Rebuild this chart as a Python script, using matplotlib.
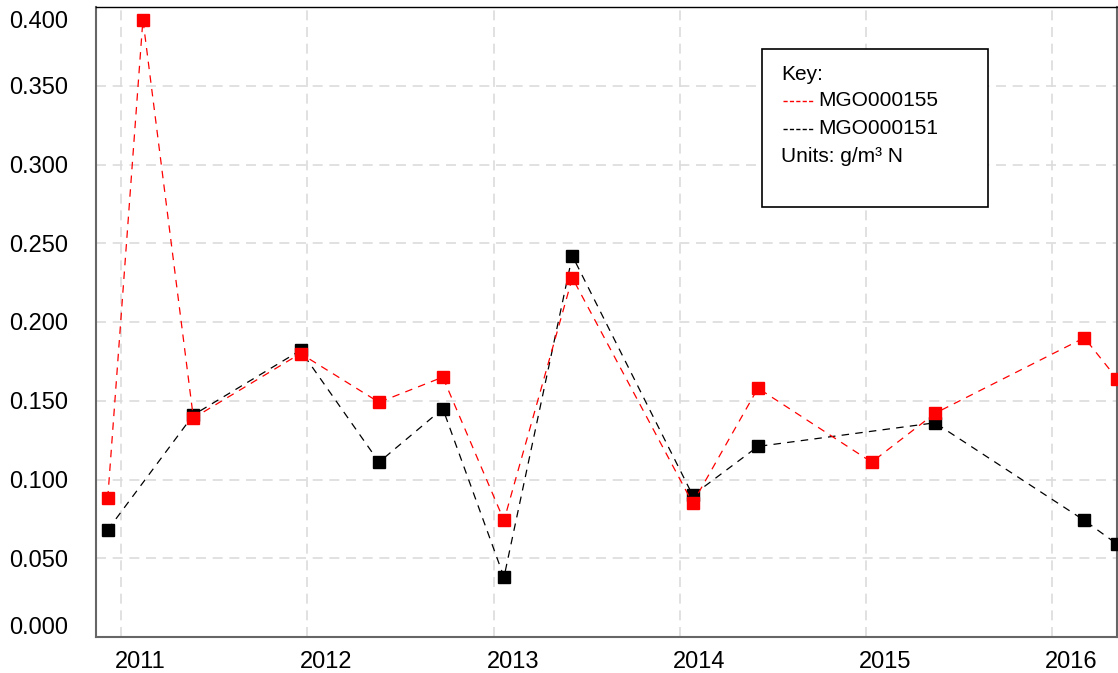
import matplotlib
matplotlib.use("Agg")
import matplotlib.pyplot as plt
import matplotlib.transforms as mtransforms
from matplotlib.lines import Line2D
from matplotlib.patches import Rectangle
from matplotlib import font_manager
import pandas as pd

plt.rcParams['font.family'] = ['Liberation Sans', 'DejaVu Sans']

# ---- data ----
red_dates = ["2010-12-06", "2011-02-13", "2011-05-23", "2011-12-19", "2012-05-21",
             "2012-09-23", "2013-01-21", "2013-06-04", "2014-01-26", "2014-06-03",
             "2015-01-12", "2015-05-16", "2016-03-04", "2016-05-07"]
red_values = [0.088, 0.392, 0.139, 0.180, 0.149, 0.165, 0.074, 0.228, 0.085, 0.158,
              0.111, 0.142, 0.190, 0.164]

black_dates = ["2010-12-06", "2011-05-23", "2011-12-19", "2012-05-21", "2012-09-23",
               "2013-01-21", "2013-06-04", "2014-01-26", "2014-06-03", "2015-05-16",
               "2016-03-04", "2016-05-07"]
black_values = [0.068, 0.141, 0.182, 0.111, 0.145, 0.038, 0.242, 0.090, 0.121, 0.136,
                0.074, 0.059]

red_name = "MGO000155"
black_name = "MGO000151"
y_ticks = [0.0, 0.05, 0.10, 0.15, 0.20, 0.25, 0.30, 0.35, 0.40]
year_ticks = ["2011", "2012", "2013", "2014", "2015", "2016"]
x_start, x_end = "2010-11-13", "2016-05-07"

# ---- figure ----
W, H = 1118, 673
fig = plt.figure(figsize=(W / 100, H / 100), dpi=100)
ax = fig.add_axes([96 / W, (H - 637) / H, (1117 - 96) / W, (637 - 7) / H])

rd = pd.to_datetime(red_dates)
bd = pd.to_datetime(black_dates)

ax.plot(bd, black_values, color="black", lw=0.9, ls=(0, (6, 5)), marker="s",
        markersize=8.5, markerfacecolor="black", markeredgecolor="black", zorder=3)
ax.plot(rd, red_values, color="red", lw=0.9, ls=(0, (6, 5)), marker="s",
        markersize=8.5, markerfacecolor="red", markeredgecolor="red", zorder=4)

ax.set_xlim(pd.Timestamp(x_start), pd.Timestamp(x_end))
ax.set_ylim(0, 0.4)

ax.set_yticks(y_ticks)
ax.set_yticklabels([f"{v:.3f}" for v in y_ticks])
ax.set_xticks([pd.Timestamp(f"{y}-01-01") for y in year_ticks])
ax.set_xticklabels(year_ticks)

ax.tick_params(axis="both", length=0, labelsize=17)
ax.tick_params(axis="y", pad=20)
ax.tick_params(axis="x", pad=10)

# shift year labels right
off = mtransforms.ScaledTranslation(0.19, 0, fig.dpi_scale_trans)
for lab in ax.get_xticklabels():
    lab.set_transform(lab.get_transform() + off)
ylabs = ax.get_yticklabels()
ylabs[0].set_transform(ylabs[0].get_transform() + mtransforms.ScaledTranslation(0, 0.12, fig.dpi_scale_trans))
ylabs[-1].set_transform(ylabs[-1].get_transform() + mtransforms.ScaledTranslation(0, -0.12, fig.dpi_scale_trans))

ax.grid(True, color="#dcdcdc", lw=1.2, ls=(0, (6, 4)))
ax.set_axisbelow(True)

for s in ["left", "bottom", "right"]:
    ax.spines[s].set_color("#666666")
    ax.spines[s].set_linewidth(1.5)
ax.spines["top"].set_color("black")
ax.spines["top"].set_linewidth(1.0)

# ---- key box ----
def fx(px):
    return px / W

def fy(py):
    return 1 - py / H

names = {f.name for f in font_manager.fontManager.ttflist}
if "Liberation Sans Narrow" in names:
    kfam, ksize = ['Liberation Sans Narrow', 'DejaVu Sans'], 17
else:
    kfam, ksize = ['Liberation Sans', 'DejaVu Sans'], 15

fig.patches.append(Rectangle((fx(762), fy(207)), fx(988) - fx(762), fy(49) - fy(207),
                             transform=fig.transFigure, facecolor="white",
                             edgecolor="black", lw=1.2, zorder=10))
kfont = dict(family=kfam, fontsize=ksize, va="center", ha="left", zorder=11)
fig.text(fx(781), fy(74), "Key:", **kfont)
fig.add_artist(Line2D([fx(783), fx(813)], [fy(101), fy(101)], color="red", lw=1,
                      ls=(0, (3, 1.6)), transform=fig.transFigure, zorder=11))
fig.text(fx(818), fy(101), red_name, **kfont)
fig.add_artist(Line2D([fx(783), fx(813)], [fy(129), fy(129)], color="black", lw=1,
                      ls=(0, (3, 1.6)), transform=fig.transFigure, zorder=11))
fig.text(fx(818), fy(129), black_name, **kfont)
fig.text(fx(781), fy(157), "Units: g/m³ N", **kfont)

fig.savefig("out.png", dpi=100)
